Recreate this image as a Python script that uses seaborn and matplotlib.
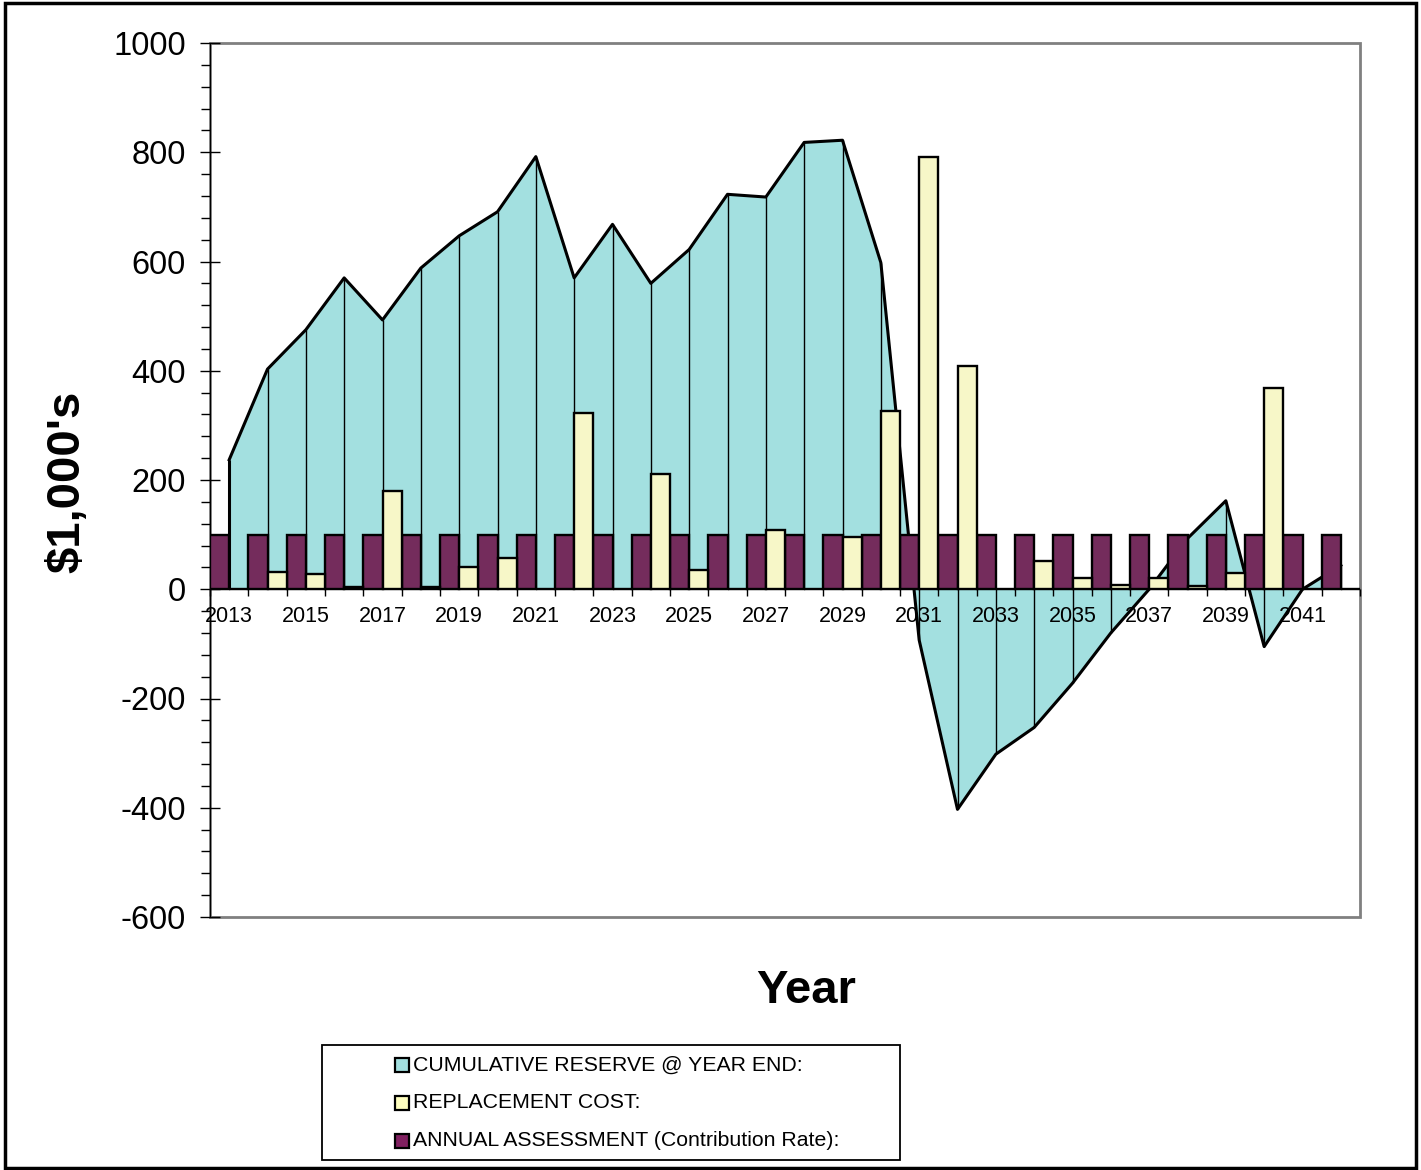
import numpy as np
import pandas as pd
import seaborn as sns
import matplotlib.pyplot as plt
from matplotlib.patches import Rectangle
from matplotlib.ticker import MultipleLocator

plt.rcParams['font.family'] = ['Liberation Sans', 'DejaVu Sans']
plt.rcParams['axes.unicode_minus'] = False

# Data ($1,000's)
years = ['2013', '2014', '2015', '2016', '2017', '2018', '2019', '2020', '2021', '2022',
         '2023', '2024', '2025', '2026', '2027', '2028', '2029', '2030', '2031', '2032',
         '2033', '2034', '2035', '2036', '2037', '2038', '2039', '2040', '2041', '2042']
reserve = [237, 403, 475, 570, 493, 588, 647, 691, 792, 570,
           668, 560, 622, 723, 718, 818, 822, 598, -93, -403,
           -302, -253, -172, -80, 0, 93, 162, -105, 0, 44]
replacement = [0, 32, 28, 5, 179, 5, 40, 57, 0, 322,
               0, 211, 35, 0, 108, 0, 95, 326, 792, 409,
               0, 52, 21, 8, 21, 6, 30, 369, 0, 0]
assessment = [100, 100, 100, 100, 100, 100, 100, 100, 100, 100,
              100, 100, 100, 100, 100, 100, 100, 100, 100, 100,
              100, 100, 100, 100, 100, 100, 100, 100, 100, 100]

lbl_res = 'CUMULATIVE RESERVE @ YEAR END:'
lbl_rep = 'REPLACEMENT COST:'
lbl_ass = 'ANNUAL ASSESSMENT (Contribution Rate):'
colors = {lbl_res: '#A3E0E0', lbl_rep: '#FFFFC0', lbl_ass: '#802060'}

df_bars = pd.concat([
    pd.DataFrame({'Year': years, 'Value': assessment, 'Series': lbl_ass}),
    pd.DataFrame({'Year': years, 'Value': replacement, 'Series': lbl_rep}),
])

W, H = 1421, 1170
fig = plt.figure(figsize=(W / 100, H / 100), dpi=100)
ax = fig.add_axes([210 / W, 1 - 917 / H, 1150 / W, 874 / H])

# bars: assessment on the left half, replacement on the right half of each year
sns.barplot(data=df_bars, x='Year', y='Value', hue='Series', order=years,
            hue_order=[lbl_ass, lbl_rep], palette=colors, width=1.0, gap=0,
            errorbar=None, edgecolor='black', linewidth=1.7, legend=False,
            ax=ax, zorder=3)

# cumulative reserve area with drop lines
xs = np.arange(len(years))
ax.fill_between(xs, reserve, 0, color=colors[lbl_res], lw=0, zorder=0.5)
ax.vlines(xs, 0, reserve, color='black', lw=1.0, zorder=0.6)
ax.plot(xs, reserve, color='black', lw=2.2, zorder=0.7)
ax.vlines(xs[0], 0, reserve[0], color='black', lw=2.2, zorder=0.7)

ax.set_xlim(-0.5, len(years) - 0.5)
ax.set_ylim(-600, 1000)
ax.set_xlabel('')
ax.set_ylabel('')

# axes styling (Excel look)
for s in ['top', 'right']:
    ax.spines[s].set_visible(False)
ax.spines['bottom'].set_position(('data', 0))
ax.spines['bottom'].set_color('#303030')
ax.spines['left'].set_color('black')
ax.add_patch(Rectangle((0, 0), 1, 1, transform=ax.transAxes, fill=False,
                       ec='#808080', lw=2, zorder=0.4, clip_on=False))

ax.set_xticks(np.arange(-0.5, len(years), 1))
ax.set_xticklabels([''] * (len(years) + 1))
ax.set_xticks(xs[::2], minor=True)
ax.set_xticklabels(years[::2], minor=True)
ax.tick_params(axis='x', which='major', direction='out', length=5, width=1, color='black')
ax.tick_params(axis='x', which='minor', length=0, pad=12, labelsize=15.5)

ax.set_yticks(np.arange(-600, 1001, 200))
ax.yaxis.set_minor_locator(MultipleLocator(40))
ax.tick_params(axis='y', which='major', direction='inout', length=14.5, width=1,
               labelsize=23.5, pad=10)
ax.tick_params(axis='y', which='minor', direction='out', length=6.5, width=1)

# axis titles
fig.text(67 / W, 1 - 482 / H, r"\$1,000's", rotation=90, fontsize=34,
         fontweight='bold', ha='center', va='center')
fig.text(806 / W, 1 - 1003 / H, 'Year', fontsize=34, fontweight='bold',
         ha='center', va='baseline')

# legend box
fig.patches.append(Rectangle((322 / W, 1 - 1160 / H), 578 / W, 115 / H,
                             transform=fig.transFigure, fill=False, ec='black', lw=1.3))
for i, lbl in enumerate([lbl_res, lbl_rep, lbl_ass]):
    yc = 1065 + 38 * i
    fig.patches.append(Rectangle((395 / W, 1 - (yc + 7) / H), 14 / W, 14 / H,
                                 transform=fig.transFigure, fc=colors[lbl],
                                 ec='black', lw=1.6))
    fig.text(413 / W, 1 - yc / H, lbl, fontsize=15.3, ha='left', va='center')

# chart border
fig.patches.append(Rectangle((5 / W, 2 / H), 1411 / W, 1165 / H,
                             transform=fig.transFigure, fill=False, ec='black', lw=2.5))

fig.savefig('out.png', dpi=100)
